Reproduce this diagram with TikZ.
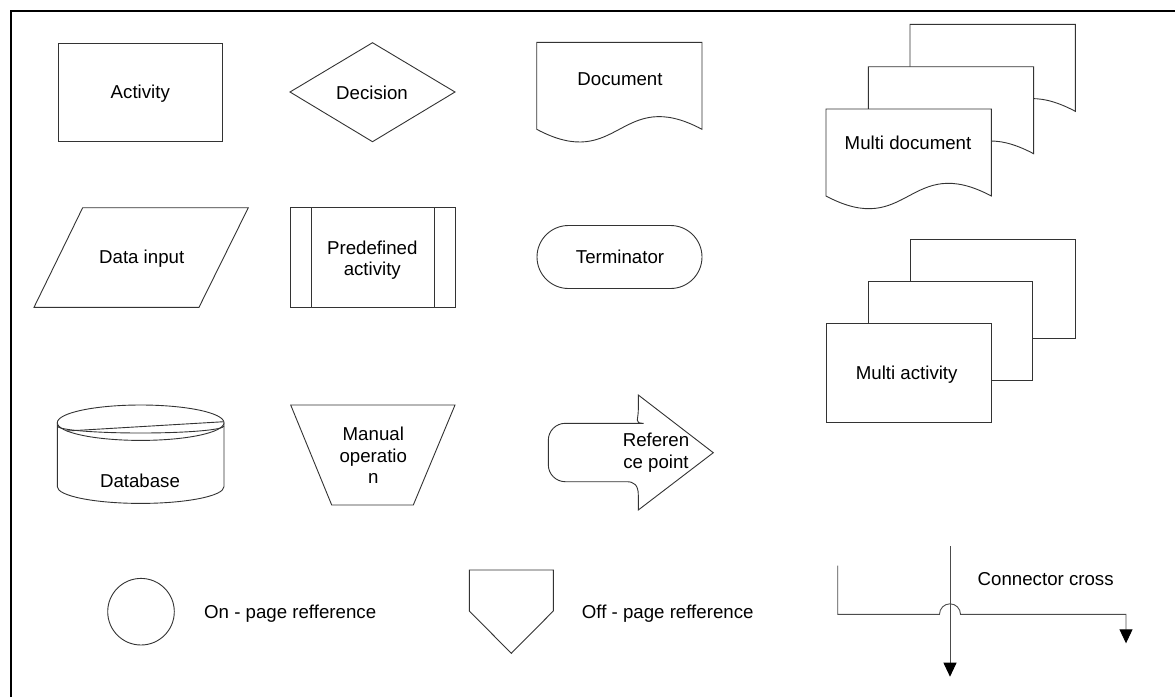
\documentclass[tikz,border=0pt]{standalone}
\usepackage{fontspec}
\setmainfont{Liberation Sans}
\usetikzlibrary{arrows.meta}
\newcommand\fcdoc[2]{%
  \draw[shp] (#1,#2) -- ({#1+165.3},#2) -- ({#1+165.3},{#2+87})
    .. controls ({#1+82.65},{#2+43}) and ({#1+82.65},{#2+131}) .. (#1,{#2+87}) -- cycle;}
\begin{document}
\begin{tikzpicture}[x=1pt,y=-1pt,
  shp/.style={draw=black!80, line width=0.9pt, fill=white},
  lbl/.style={font=\fontsize{18.67}{21.5}\selectfont, inner sep=0pt, text height=13.4pt, text depth=0pt},
  mlbl/.style={font=\fontsize{18.67}{21.5}\selectfont, inner sep=0pt, anchor=base},
  conn/.style={draw=black!70, line width=0.9pt},
  arrowend/.style={-{Triangle[width=13pt,length=14pt,color=black]}}]
\useasboundingbox (0,0) rectangle (1175,697);
% frame
\draw[line width=2pt] (11,697) -- (11,11) -- (1175,11);

% Activity
\node[shp, lbl, minimum width=164.3pt, minimum height=98pt] (act) at (140.3,92) {Activity};
% Decision
\draw[shp] (290,92) -- (372.5,42.7) -- (455,92) -- (372.5,141.7) -- cycle;
\node[lbl] (dec) at (372,93) {Decision};
% Document
\fcdoc{536.7}{42.3}
\node[lbl] (doc) at (620,79) {Document};
% Multi document
\fcdoc{910}{24.3}
\fcdoc{868.3}{66.7}
\fcdoc{826}{109}
\node[lbl] (mdoc) at (908,143) {Multi document};

% Data input
\draw[shp] (82.7,207.7) -- (248.3,207.7) -- (199,307.3) -- (34,307.3) -- cycle;
\node[lbl] (din) at (141.7,257) {Data input};
% Predefined activity
\draw[shp] (290,207.7) rectangle (455,307.3);
\draw[shp] (311.7,207.7) -- (311.7,307.3);
\draw[shp] (434,207.7) -- (434,307.3);
\node[mlbl] (pre) at (372.3,254.3) {\begin{tabular}[t]{@{}c@{}}Predefined\\activity\end{tabular}};
% Terminator
\draw[shp, rounded corners=31.5pt] (537,225.5) rectangle (702,288.5);
\node[lbl] (term) at (620,257) {Terminator};
% Multi activity
\draw[shp] (910,239.3) rectangle (1075,338.3);
\draw[shp] (868.3,281.7) rectangle (1032.3,380);
\draw[shp] (826,323.3) rectangle (991.7,422.7);
\node[lbl] (mact) at (906.7,372.3) {Multi activity};

% Database
\draw[shp] (57.3,422.7) -- (57.3,486.7) arc[start angle=180, end angle=0, x radius=83.35, y radius=16.7] -- (224,422.7);
\draw[shp] (140.65,422.7) ellipse [x radius=83.35, y radius=17.7];
\draw[shp, fill=none] (57.3,426) arc[start angle=180, end angle=0, x radius=83.35, y radius=7];
\draw[shp] (66.7,431) -- (224,421.7);
\node[lbl] (db) at (140,481) {Database};
% Manual operation
\draw[shp] (290.7,405) -- (455,405) -- (413.3,505) -- (331.7,505) -- cycle;
\node[mlbl] (man) at (373.3,440.5) {\begin{tabular}[t]{@{}c@{}}Manual\\operatio\\n\end{tabular}};
% Reference point
\draw[shp] (638.3,395) -- (713.3,452.7) -- (638.3,510) -- (638.3,495)
  .. controls (638.3,485) and (634,481.7) .. (626.7,481.7)
  [rounded corners=17pt] -- (548.3,481.7) -- (548.3,423.3) -- (626.7,423.3)
  [sharp corners] .. controls (634,423.3) and (638.3,420) .. (638.3,410) -- cycle;
\node[mlbl] (ref) at (656,446.5) {\begin{tabular}[t]{@{}c@{}}Referen\\ce point\end{tabular}};

% On-page reference
\draw[shp] (141,611.7) circle[radius=33.3];
\node[lbl, anchor=west] (onp) at (204,611.7) {On - page refference};
% Off-page reference
\draw[shp] (469.3,570) -- (553.3,570) -- (553.3,611) -- (511.3,653.3) -- (469.3,611) -- cycle;
\node[lbl, anchor=west] (offp) at (581.7,611.7) {Off - page refference};

% Connector cross
\coordinate (ca) at (837.7,565.7);
\coordinate (cb) at (837.7,614.3);
\coordinate (cj) at (939.5,614.3);
\coordinate (cc) at (1126,614.3);
\coordinate (cd) at (1126,643.3);
\coordinate (cv1) at (950,546);
\coordinate (cv2) at (950,676.7);
\draw[conn, arrowend] (ca) -- (cb) -- (cj) arc[start angle=180, end angle=360, radius=10.5] -- (cc) -- (cd);
\draw[conn, arrowend] (cv1) -- (cv2);
\node[lbl] (cross) at (1045.7,579.2) {Connector cross};
\end{tikzpicture}
\end{document}
